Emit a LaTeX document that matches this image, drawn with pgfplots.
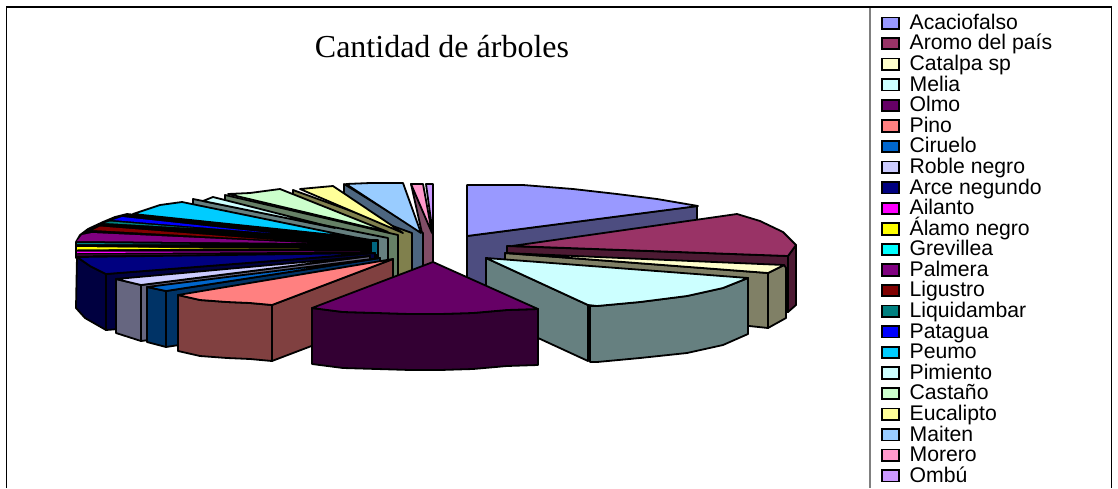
\documentclass[border=0pt]{standalone}
\usepackage{fontspec}
\setmainfont{Liberation Serif}
\newfontfamily\arial{Liberation Sans}
\usepackage{pgfplots}
\pgfplotsset{compat=1.18}
\definecolor{acacio}{HTML}{9999FF}\definecolor{acacioS}{HTML}{4D4D80}
\definecolor{aromo}{HTML}{993366}\definecolor{aromoS}{HTML}{4D1A33}
\definecolor{catalpa}{HTML}{FFFFCC}\definecolor{catalpaS}{HTML}{808066}
\definecolor{melia}{HTML}{CCFFFF}\definecolor{meliaS}{HTML}{668080}
\definecolor{olmo}{HTML}{660066}\definecolor{olmoS}{HTML}{330033}
\definecolor{pino}{HTML}{FF8080}\definecolor{pinoS}{HTML}{804040}
\definecolor{ciruelo}{HTML}{0066CC}\definecolor{cirueloS}{HTML}{003366}
\definecolor{roble}{HTML}{CCCCFF}\definecolor{robleS}{HTML}{666680}
\definecolor{arce}{HTML}{000080}\definecolor{arceS}{HTML}{000040}
\definecolor{ailanto}{HTML}{FF00FF}\definecolor{alamo}{HTML}{FFFF00}
\definecolor{grevillea}{HTML}{00FFFF}\definecolor{palmera}{HTML}{800080}
\definecolor{ligustro}{HTML}{800000}\definecolor{liquid}{HTML}{008080}
\definecolor{patagua}{HTML}{0000FF}
\definecolor{peumo}{HTML}{00CCFF}\definecolor{peumoS}{HTML}{006680}
\definecolor{pimiento}{HTML}{CCFFFF}
\definecolor{castano}{HTML}{CCFFCC}\definecolor{castanoS}{HTML}{668066}
\definecolor{eucalipto}{HTML}{FFFF99}\definecolor{eucaliptoS}{HTML}{80804D}
\definecolor{maiten}{HTML}{99CCFF}\definecolor{maitenS}{HTML}{4D6680}
\definecolor{morero}{HTML}{FF99CC}\definecolor{moreroS}{HTML}{804D66}
\definecolor{ombu}{HTML}{CC99FF}
\pgfplotsset{
  face/.style={fill=#1,draw=black,line width=1.8pt,line join=round,forget plot,mark=none},
  thin face/.style={fill=#1,draw=none,forget plot,mark=none},
  swatch/.style={fill=#1,draw=black,line width=1.8pt},
}
\begin{document}
\begin{tikzpicture}
\useasboundingbox (0,0) rectangle (1118pt,488pt);
\begin{axis}[
  width=1118pt,height=488pt,scale only axis,
  xmin=0,xmax=1118,ymin=0,ymax=488,y dir=reverse,
  hide axis,clip=false,
  legend image code/.code={\draw[#1] (0pt,-4.4pt) rectangle (17pt,7pt);},
  legend cell align=left,
  legend style={at={(axis cs:881.3,14.4)},anchor=north west,draw=none,fill=none,
    inner sep=0pt,outer sep=0pt,row sep=0.58pt,column sep=9.5pt,
    font=\arial\fontsize{21.2}{20}\selectfont,
    nodes={inner sep=0pt,outer sep=0pt,text height=15pt,text depth=5pt,anchor=west}},
]
% legend, in the reference's order
\addlegendimage{swatch=acacio}\addlegendentry{Acaciofalso}
\addlegendimage{swatch=aromo}\addlegendentry{Aromo del país}
\addlegendimage{swatch=catalpa}\addlegendentry{Catalpa sp}
\addlegendimage{swatch=melia}\addlegendentry{Melia}
\addlegendimage{swatch=olmo}\addlegendentry{Olmo}
\addlegendimage{swatch=pino}\addlegendentry{Pino}
\addlegendimage{swatch=ciruelo}\addlegendentry{Ciruelo}
\addlegendimage{swatch=roble}\addlegendentry{Roble negro}
\addlegendimage{swatch=arce}\addlegendentry{Arce negundo}
\addlegendimage{swatch=ailanto}\addlegendentry{Ailanto}
\addlegendimage{swatch=alamo}\addlegendentry{Álamo negro}
\addlegendimage{swatch=grevillea}\addlegendentry{Grevillea}
\addlegendimage{swatch=palmera}\addlegendentry{Palmera}
\addlegendimage{swatch=ligustro}\addlegendentry{Ligustro}
\addlegendimage{swatch=liquid}\addlegendentry{Liquidambar}
\addlegendimage{swatch=patagua}\addlegendentry{Patagua}
\addlegendimage{swatch=peumo}\addlegendentry{Peumo}
\addlegendimage{swatch=pimiento}\addlegendentry{Pimiento}
\addlegendimage{swatch=castano}\addlegendentry{Castaño}
\addlegendimage{swatch=eucalipto}\addlegendentry{Eucalipto}
\addlegendimage{swatch=maiten}\addlegendentry{Maiten}
\addlegendimage{swatch=morero}\addlegendentry{Morero}
\addlegendimage{swatch=ombu}\addlegendentry{Ombú}
% frame
\addplot[draw=black,line width=1.5pt,forget plot,mark=none] coordinates {(6.5,488)(6.5,7)(1111.7,7)(1111.7,488)};
\addplot[draw=gray,line width=2pt,forget plot,mark=none] coordinates {(869.5,8)(869.5,488)};
% rear slices, far ones first
\addplot[face=moreroS] coordinates {(411,184)(422,233)(422,285)(433,285)(433,233)} --cycle;
\addplot[face=ombu] coordinates {(426,184)(433,184)(433,235)} --cycle;
\addplot[face=morero] coordinates {(411,184)(423,184)(432,233)} --cycle;
\addplot[face=maitenS] coordinates {(344,184)(423,233)(423,289)(344,240)} --cycle;
\addplot[face=maiten] coordinates {(346,184)(370,183)(403,183)(421,233)} --cycle;
\addplot[face=eucaliptoS] coordinates {(293,190)(412,233)(412,289)(293,246)} --cycle;
\addplot[face=eucalipto] coordinates {(300,189)(333,186)(403,233)} --cycle;
\addplot[face=castanoS] coordinates {(225,195)(398,235)(398,291)(225,251)} --cycle;
\addplot[face=castano] coordinates {(228,194)(250,193)(280,189)(388,232)} --cycle;
\addplot[face=meliaS] coordinates {(193,199)(388,238)(388,285)(193,246)} --cycle;
\addplot[face=pimiento] coordinates {(203,201)(213,197)(335,228)} --cycle;
\addplot[face=black] coordinates {(76,256)(76,242)(80,235)(88,229)(103,222)(115,217)(127,214)(353,237)(371,240)(378,240)(378,258)(76,258)} --cycle;
\addplot[face=peumoS] coordinates {(371,241)(378,241)(378,255)(371,255)} --cycle;
\addplot[face=peumo] coordinates {(133,214)(160,205)(182,202)(353,237)} --cycle;
\addplot[thin face=patagua] coordinates {(113,220)(122,217)(270,233)} --cycle;
\addplot[thin face=liquid] coordinates {(105,223)(110,221.5)(193,228)} --cycle;
\addplot[thin face=ligustro] coordinates {(93,230)(100,226.5)(273,240)} --cycle;
\addplot[thin face=palmera] coordinates {(77,241)(82,235)(92,233)(307,243)} --cycle;
\addplot[thin face=liquid] coordinates {(77,243)(77,244.2)(190,244)} --cycle;
\addplot[thin face=alamo!50!black] coordinates {(100,247.5)(100,249)(300,248.5)} --cycle;
\addplot[thin face=alamo] coordinates {(77,247)(77,249.5)(200,248.5)} --cycle;
\addplot[thin face=ailanto] coordinates {(77,251.7)(77,253)(360,251.5)} --cycle;
\addplot[thin face=palmera] coordinates {(77,254.5)(77,255.3)(300,254.5)} --cycle;
% left front slices
\addplot[face=arceS] coordinates {(106,274)(375,253)(375,309)(106,330)} --cycle;
\addplot[face=arceS] coordinates {(77,257)(90,266)(106,274)(106,330)(85,318)(76,308)} --cycle;
\addplot[face=arce] coordinates {(77,257)(90,266)(106,274)(375,253)} --cycle;
\addplot[face=robleS] coordinates {(141,285)(370,256)(370,312)(141,341)} --cycle;
\addplot[face=robleS] coordinates {(116,279)(141,285)(141,341)(116,333)} --cycle;
\addplot[face=roble] coordinates {(116,279)(141,285)(370,256)} --cycle;
\addplot[face=cirueloS] coordinates {(166,291)(380,258)(380,314)(166,347)} --cycle;
\addplot[face=cirueloS] coordinates {(147,287)(166,291)(166,347)(147,342)} --cycle;
\addplot[face=ciruelo] coordinates {(147,287)(166,291)(380,258)} --cycle;
\addplot[face=pinoS] coordinates {(272,305)(393,259)(393,315)(272,361)} --cycle;
\addplot[face=pinoS] coordinates {(178,295)(200,300)(227,302)(250,303)(272,305)(272,361)(250,359)(227,358)(200,356)(178,351)} --cycle;
\addplot[face=pino] coordinates {(178,295)(200,300)(227,302)(250,303)(272,305)(393,259)} --cycle;
% right slices
\addplot[face=acacioS] coordinates {(467,236)(697,206)(697,262)(467,292)} --cycle;
\addplot[face=acacio] coordinates {(467,185)(523,185)(573,189)(617,194)(657,199)(698,206)(467,236)} --cycle;
\addplot[face=aromoS] coordinates {(507,246)(788,256)(788,312)(507,302)} --cycle;
\addplot[face=aromoS] coordinates {(788,256)(796,245)(796,305)(788,312)} --cycle;
\addplot[face=aromo] coordinates {(512,246)(737,214)(760,221)(783,232)(796,245)(788,256)} --cycle;
\addplot[face=catalpaS] coordinates {(505,253)(768,273)(768,328)(505,300)} --cycle;
\addplot[face=catalpaS] coordinates {(768,273)(784,265)(786,268)(786,318)(768,328)} --cycle;
\addplot[face=catalpa] coordinates {(505,253)(784,265)(768,273)} --cycle;
\addplot[face=meliaS] coordinates {(486,258)(588,305)(588,361)(486,314)} --cycle;
\addplot[face=meliaS] coordinates {(590,306)(597,306)(640,302)(687,296)(723,288)(748,278)(748,334)(723,345)(687,353)(640,358)(597,362)(590,362)} --cycle;
\addplot[face=melia] coordinates {(486,258)(748,278)(723,288)(687,296)(640,302)(597,306)(588,305)} --cycle;
% front slice
\addplot[face=olmoS] coordinates {(312,308)(343,312)(377,313)(410,314)(440,314)(473,313)(507,310)(538,309)(538,365)(507,366)(473,369)(440,370)(410,370)(377,369)(343,368)(312,364)} --cycle;
\addplot[face=olmo] coordinates {(433,262)(312,308)(343,312)(377,313)(410,314)(440,314)(473,313)(507,310)(538,309)} --cycle;
% title
\node[font=\fontsize{32}{36}\selectfont,anchor=base] at (axis cs:442,57) {Cantidad de árboles};
\end{axis}
\end{tikzpicture}
\end{document}
